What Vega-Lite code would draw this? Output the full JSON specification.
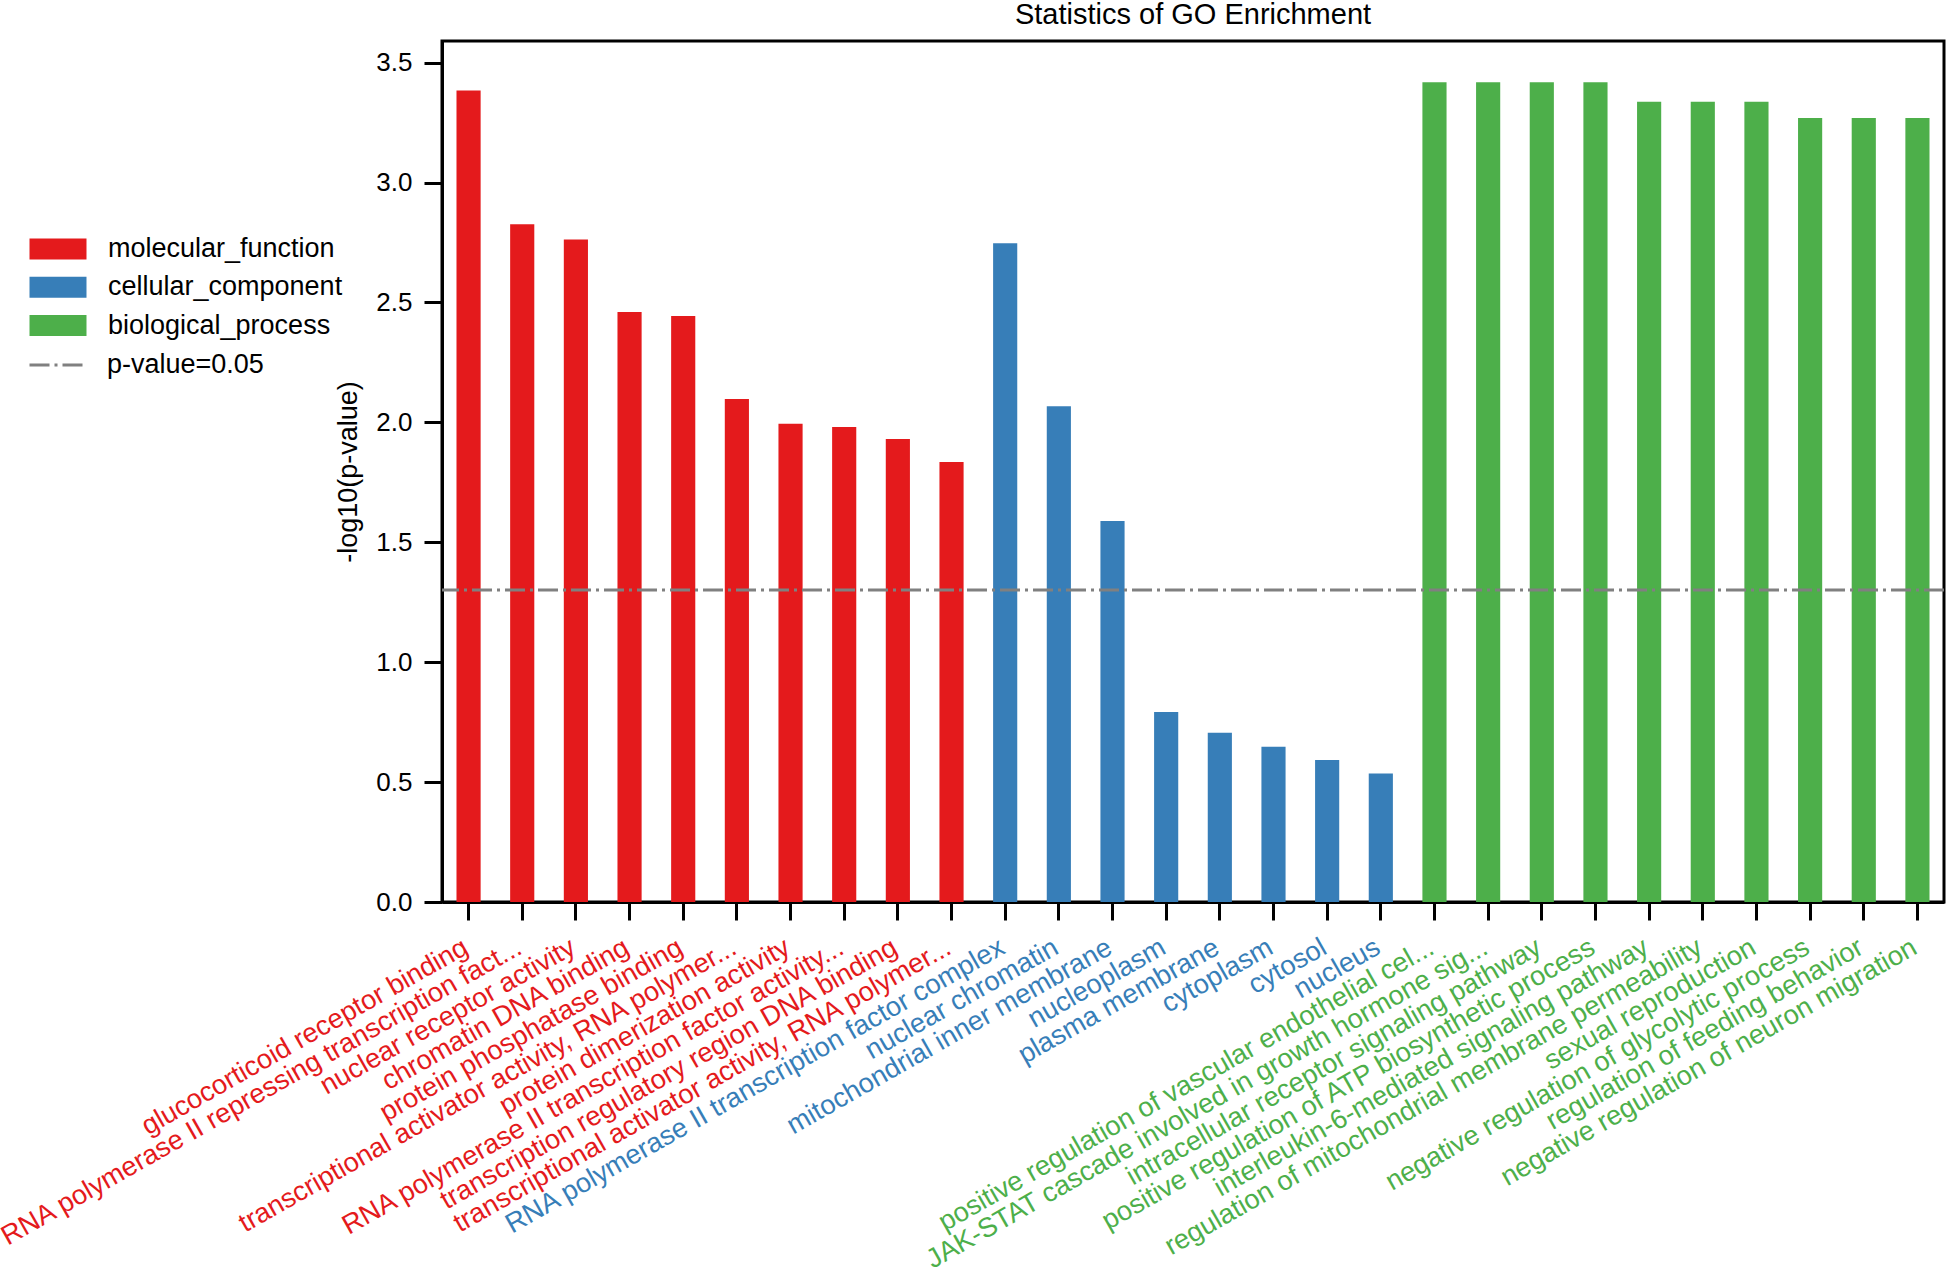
{
  "$schema": "https://vega.github.io/schema/vega-lite/v6.json",
  "width": 1502,
  "height": 861,
  "autosize": "none",
  "padding": {"left": 442, "top": 41, "right": 5, "bottom": 365},
  "title": {
    "text": "Statistics of GO Enrichment",
    "fontSize": 29,
    "fontWeight": "normal",
    "offset": 11,
    "anchor": "middle",
    "color": "#000"
  },
  "data": {
    "values": [
      {"id": "mf01", "term": "glucocorticoid receptor binding", "category": "molecular_function", "value": 3.384},
      {"id": "mf02", "term": "RNA polymerase II repressing transcription fact...", "category": "molecular_function", "value": 2.826},
      {"id": "mf03", "term": "nuclear receptor activity", "category": "molecular_function", "value": 2.762},
      {"id": "mf04", "term": "chromatin DNA binding", "category": "molecular_function", "value": 2.46},
      {"id": "mf05", "term": "protein phosphatase binding", "category": "molecular_function", "value": 2.443},
      {"id": "mf06", "term": "transcriptional activator activity, RNA polymer...", "category": "molecular_function", "value": 2.097},
      {"id": "mf07", "term": "protein dimerization activity", "category": "molecular_function", "value": 1.994},
      {"id": "mf08", "term": "RNA polymerase II transcription factor activity...", "category": "molecular_function", "value": 1.981},
      {"id": "mf09", "term": "transcription regulatory region DNA binding", "category": "molecular_function", "value": 1.93},
      {"id": "mf10", "term": "transcriptional activator activity, RNA polymer...", "category": "molecular_function", "value": 1.835},
      {"id": "cc01", "term": "RNA polymerase II transcription factor complex", "category": "cellular_component", "value": 2.747},
      {"id": "cc02", "term": "nuclear chromatin", "category": "cellular_component", "value": 2.067},
      {"id": "cc03", "term": "mitochondrial inner membrane", "category": "cellular_component", "value": 1.589},
      {"id": "cc04", "term": "nucleoplasm", "category": "cellular_component", "value": 0.792},
      {"id": "cc05", "term": "plasma membrane", "category": "cellular_component", "value": 0.706},
      {"id": "cc06", "term": "cytoplasm", "category": "cellular_component", "value": 0.647},
      {"id": "cc07", "term": "cytosol", "category": "cellular_component", "value": 0.592},
      {"id": "cc08", "term": "nucleus", "category": "cellular_component", "value": 0.536},
      {"id": "bp01", "term": "positive regulation of vascular endothelial cel...", "category": "biological_process", "value": 3.418},
      {"id": "bp02", "term": "JAK-STAT cascade involved in growth hormone sig...", "category": "biological_process", "value": 3.418},
      {"id": "bp03", "term": "intracellular receptor signaling pathway", "category": "biological_process", "value": 3.418},
      {"id": "bp04", "term": "positive regulation of ATP biosynthetic process", "category": "biological_process", "value": 3.418},
      {"id": "bp05", "term": "interleukin-6-mediated signaling pathway", "category": "biological_process", "value": 3.337},
      {"id": "bp06", "term": "regulation of mitochondrial membrane permeability", "category": "biological_process", "value": 3.337},
      {"id": "bp07", "term": "sexual reproduction", "category": "biological_process", "value": 3.337},
      {"id": "bp08", "term": "negative regulation of glycolytic process", "category": "biological_process", "value": 3.269},
      {"id": "bp09", "term": "regulation of feeding behavior", "category": "biological_process", "value": 3.269},
      {"id": "bp10", "term": "negative regulation of neuron migration", "category": "biological_process", "value": 3.269}
    ]
  },
  "transform": [
    {"calculate": "datum.id + ':' + datum.term", "as": "key"}
  ],
  "layer": [
    {
      "mark": {"type": "bar"},
      "encoding": {
        "x": {
          "field": "key",
          "type": "nominal",
          "sort": null,
          "scale": {"paddingInner": 0.55, "paddingOuter": 0.27},
          "axis": {
            "title": null,
            "labelAngle": -29.6,
            "labelAlign": "right",
            "labelBaseline": "top",
            "labelFontSize": 27.3,
            "labelLimit": 2000,
            "labelOverlap": false,
            "labelPadding": 13,
            "labelOffset": -9.5,
            "labelExpr": "slice(datum.value, 5)",
            "labelColor": {
              "expr": "slice(datum.value, 0, 2) == 'mf' ? '#e41a1c' : slice(datum.value, 0, 2) == 'cc' ? '#377eb8' : '#4daf4a'"
            }
          }
        },
        "y": {
          "field": "value",
          "type": "quantitative",
          "scale": {"domain": [0, 3.59], "nice": false},
          "axis": {
            "title": "-log10(p-value)",
            "values": [0, 0.5, 1, 1.5, 2, 2.5, 3, 3.5],
            "format": ".1f",
            "labelFontSize": 26,
            "labelPadding": 12,
            "titleFontSize": 27,
            "titleFontWeight": "normal",
            "titlePadding": 13
          }
        },
        "color": {
          "field": "category",
          "type": "nominal",
          "scale": {
            "domain": ["molecular_function", "cellular_component", "biological_process"],
            "range": ["#e41a1c", "#377eb8", "#4daf4a"]
          },
          "legend": {
            "title": null,
            "orient": "none",
            "legendX": -397.5,
            "legendY": 194.5,
            "symbolType": "M-2.714,-1L2.714,-1L2.714,1L-2.714,1Z",
            "symbolSize": 441,
            "symbolStrokeWidth": 0,
            "symbolOpacity": 1,
            "labelOffset": 36.5,
            "rowPadding": 10.3
          }
        }
      }
    },
    {
      "data": {"values": [{"line": "p-value=0.05"}]},
      "mark": {"type": "rule", "color": "#808080", "strokeWidth": 3},
      "encoding": {
        "y": {"datum": 1.301},
        "strokeDash": {
          "field": "line",
          "type": "nominal",
          "scale": {"domain": ["p-value=0.05"], "range": [[20, 5, 3, 5]]},
          "legend": {
            "title": null,
            "orient": "none",
            "legendX": -414,
            "legendY": 294,
            "symbolType": "stroke",
            "symbolSize": 3249,
            "symbolStrokeColor": "#808080",
            "symbolStrokeWidth": 3,
            "labelOffset": 19
          }
        }
      }
    }
  ],
  "config": {
    "font": "Liberation Sans",
    "view": {"stroke": "#000", "strokeWidth": 3},
    "axis": {
      "grid": false,
      "domain": true,
      "domainColor": "#000",
      "domainWidth": 3,
      "tickColor": "#000",
      "tickWidth": 3,
      "tickSize": 18,
      "labelColor": "#000",
      "titleColor": "#000",
      "zindex": 1
    },
    "legend": {
      "padding": 0,
      "labelFontSize": 27,
      "labelColor": "#000",
      "labelLimit": 1000
    }
  }
}
